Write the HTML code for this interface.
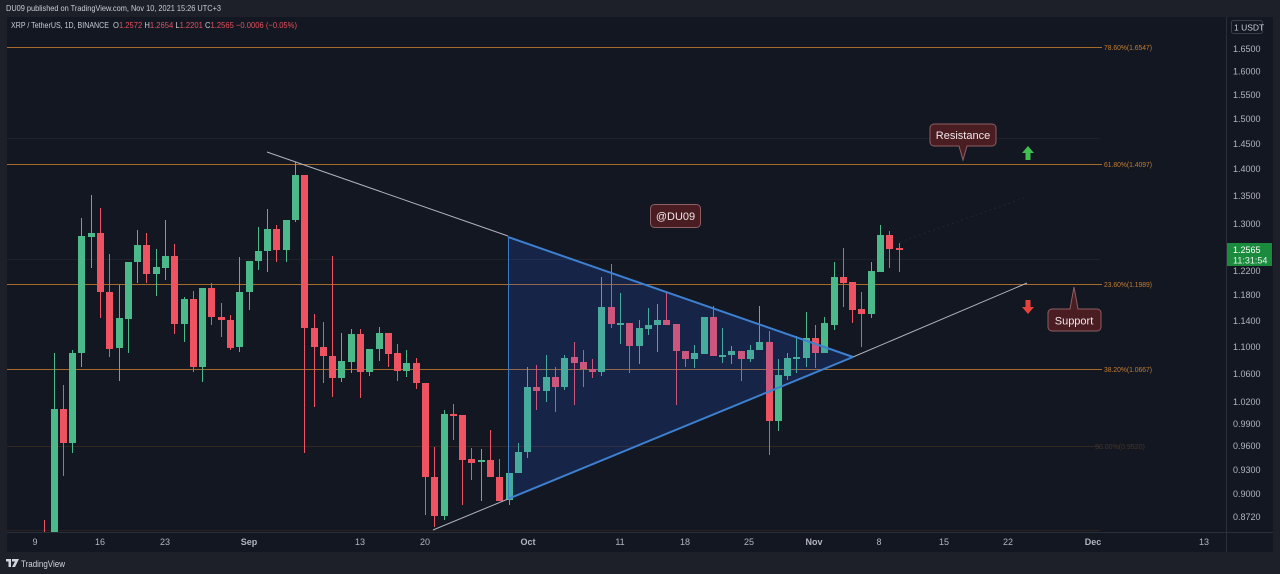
<!DOCTYPE html>
<html><head><meta charset="utf-8"><style>
html,body{margin:0;padding:0;background:#1e2029;}
svg{display:block;font-family:"Liberation Sans",sans-serif;}
</style></head><body>
<svg width="1280" height="574" viewBox="0 0 1280 574" xmlns="http://www.w3.org/2000/svg">
<rect x="0" y="0" width="1280" height="574" fill="#1e2029"/>
<text x="6" y="11" font-size="8.5" fill="#c9ccd4" textLength="215" lengthAdjust="spacingAndGlyphs">DU09 published on TradingView.com, Nov 10, 2021 15:26 UTC+3</text>
<!-- chart panel -->
<rect x="7" y="17" width="1266" height="535" fill="#131722"/>
<line x1="1226.5" y1="17" x2="1226.5" y2="552" stroke="#2a2e39" stroke-width="1"/>
<line x1="7" y1="532.5" x2="1273" y2="532.5" stroke="#2a2e39" stroke-width="1"/>

<!-- faint lines -->
<line x1="7" y1="138.5" x2="1100" y2="138.5" stroke="#1f222a" stroke-width="1"/>
<line x1="7" y1="259.5" x2="1100" y2="259.5" stroke="#1f222b" stroke-width="1"/>
<line x1="7" y1="446.5" x2="1100" y2="446.5" stroke="#33261f" stroke-width="1"/>
<line x1="7" y1="530.5" x2="1100" y2="530.5" stroke="#2a2220" stroke-width="1"/>
<text x="1095" y="449" font-size="7" fill="#4a3525">50.00%(0.9520)</text>

<!-- fib lines -->
<g stroke="#a86a2a" stroke-width="1">
<line x1="7" y1="47.5" x2="1102" y2="47.5"/>
<line x1="7" y1="164.5" x2="1102" y2="164.5"/>
<line x1="7" y1="284.5" x2="1102" y2="284.5"/>
<line x1="7" y1="369.5" x2="1102" y2="369.5"/>
</g>
<g font-size="7.5" fill="#c27d31">
<text x="1104" y="50" textLength="48" lengthAdjust="spacingAndGlyphs">78.60%(1.6547)</text>
<text x="1104" y="167" textLength="48" lengthAdjust="spacingAndGlyphs">61.80%(1.4097)</text>
<text x="1104" y="287" textLength="48" lengthAdjust="spacingAndGlyphs">23.60%(1.1989)</text>
<text x="1104" y="372" textLength="48" lengthAdjust="spacingAndGlyphs">38.20%(1.0667)</text>
</g>

<!-- candles -->
<g stroke="#4cb98a" stroke-width="1" fill="none">
<path d="M54.5 353V532M72.5 350V453M81.5 218V367M91.5 195V268M119.5 285V381M128.5 262V353M137.5 230V283M156.5 249V296M165.5 220V280M184.5 297V342M202.5 288V382M239.5 257V352M249.5 261V310M258.5 227V270M267.5 209V272M286.5 220V262M295.5 162V222M341.5 333V382M351.5 329V373M369.5 349V376M379.5 327V361M406.5 350V377M444.5 410V520M481.5 449V501M509.5 473V505M518.5 443V473M527.5 367V458M546.5 355V402M564.5 355V390M601.5 277V376M620.5 293V344M639.5 320V364M648.5 308V335M657.5 304V352M694.5 345V368M704.5 317V354M722.5 328V363M731.5 346V364M750.5 345V362M759.5 306V350M778.5 359V431M787.5 353V380M796.5 336V373M806.5 312V367M824.5 317V353M834.5 262V330M871.5 262V318M880.5 225V272"/>
</g>
<path fill="#4cb98a" d="M51 409h7V532h-7ZM69 353h7V443h-7ZM78 236h7V353h-7ZM88 233h7V237h-7ZM116 318h7V348h-7ZM125 262h7V319h-7ZM134 245h7V262h-7ZM153 267h7V274h-7ZM162 256h7V268h-7ZM181 299h7V324h-7ZM199 288h7V367h-7ZM236 292h7V347h-7ZM246 261h7V292h-7ZM255 251h7V261h-7ZM264 229h7V251h-7ZM283 220h7V250h-7ZM292 175h7V220h-7ZM338 361h7V378h-7ZM348 334h7V362h-7ZM366 349h7V372h-7ZM376 333h7V349h-7ZM403 363h7V371h-7ZM441 414h7V516h-7ZM478 460h7V462h-7ZM506 473h7V500h-7ZM515 452h7V473h-7ZM524 387h7V452h-7ZM543 377h7V391h-7ZM561 358h7V387h-7ZM598 307h7V372h-7ZM617 323h7V325h-7ZM636 328h7V346h-7ZM645 325h7V329h-7ZM654 320h7V325h-7ZM691 353h7V359h-7ZM701 317h7V354h-7ZM719 355h7V357h-7ZM728 351h7V355h-7ZM747 350h7V359h-7ZM756 342h7V350h-7ZM775 375h7V421h-7ZM784 358h7V376h-7ZM793 357h7V359h-7ZM803 338h7V358h-7ZM821 323h7V353h-7ZM831 277h7V325h-7ZM868 271h7V314h-7ZM877 235h7V272h-7Z"/>
<g stroke="#ef5362" stroke-width="1" fill="none">
<path d="M44.5 520V532M63.5 385V476M100.5 208V318M109.5 254V357M146.5 233V283M174.5 244V334M193.5 291V372M211.5 283V325M221.5 303V337M230.5 315V350M276.5 225V262M304.5 175V453M314.5 314V407M323.5 322V383M332.5 256V397M360.5 329V398M388.5 333V367M397.5 344V381M416.5 358V389M425.5 383V515M434.5 447V527M453.5 404V440M462.5 415V505M471.5 448V480M490.5 430V477M499.5 459V501M536.5 365V410M555.5 367V412M574.5 342V405M583.5 350V387M592.5 359V378M611.5 264V328M629.5 323V373M666.5 291V325M676.5 324V405M685.5 351V367M713.5 306V356M741.5 351V381M769.5 331V455M815.5 325V368M843.5 248V307M852.5 282V323M861.5 292V347M889.5 231V268M899.5 243V272"/>
</g>
<path fill="#ef5362" d="M60 409h7V443h-7ZM97 233h7V292h-7ZM106 292h7V349h-7ZM143 245h7V274h-7ZM171 256h7V324h-7ZM190 299h7V367h-7ZM208 288h7V317h-7ZM218 317h7V320h-7ZM227 320h7V348h-7ZM273 229h7V250h-7ZM301 175h7V328h-7ZM311 328h7V347h-7ZM320 347h7V356h-7ZM329 356h7V378h-7ZM357 334h7V372h-7ZM385 333h7V354h-7ZM394 353h7V371h-7ZM413 363h7V383h-7ZM422 383h7V477h-7ZM431 477h7V516h-7ZM450 414h7V416h-7ZM459 415h7V460h-7ZM468 459h7V463h-7ZM487 460h7V477h-7ZM496 477h7V501h-7ZM533 387h7V391h-7ZM552 377h7V387h-7ZM571 357h7V363h-7ZM580 362h7V369h-7ZM589 369h7V372h-7ZM608 307h7V324h-7ZM626 323h7V346h-7ZM663 320h7V325h-7ZM673 324h7V351h-7ZM682 351h7V359h-7ZM710 317h7V356h-7ZM738 351h7V359h-7ZM766 342h7V421h-7ZM812 338h7V353h-7ZM840 277h7V283h-7ZM849 282h7V310h-7ZM858 309h7V314h-7ZM886 235h7V249h-7ZM896 248h7V250h-7Z"/>

<!-- triangle -->
<polygon points="508,237 853,357 508,499" fill="rgb(41,98,255)" fill-opacity="0.17"/>
<line x1="508.5" y1="237" x2="508.5" y2="499" stroke="#3a7cc4" stroke-width="1"/>
<line x1="508" y1="237" x2="853" y2="357" stroke="#3d80d0" stroke-width="2"/>
<line x1="508" y1="499" x2="853" y2="357" stroke="#3d80d0" stroke-width="2"/>
<!-- trendlines -->
<line x1="267" y1="152" x2="508" y2="236" stroke="#aeb3c0" stroke-width="1"/>
<line x1="433" y1="530" x2="508" y2="499" stroke="#aeb3c0" stroke-width="1"/>
<line x1="853" y1="357" x2="1027" y2="283" stroke="#aeb3c0" stroke-width="1"/>
<line x1="900" y1="242" x2="1027" y2="197" stroke="#23262e" stroke-width="1" stroke-dasharray="2 3"/>

<!-- callouts -->
<g>
<path d="M934 124h58a4 4 0 0 1 4 4v14a4 4 0 0 1-4 4h-25l-4 14l-4-14h-25a4 4 0 0 1-4-4v-14a4 4 0 0 1 4-4z" fill="#4a1d22" stroke="#8d5f62" stroke-width="1"/>
<text x="963" y="139" font-size="11" fill="#f0e6e6" text-anchor="middle">Resistance</text>
</g>
<g>
<path d="M1052 309h18l4-22l4 22h19a4 4 0 0 1 4 4v14a4 4 0 0 1-4 4h-45a4 4 0 0 1-4-4v-14a4 4 0 0 1 4-4z" fill="#4a1d22" stroke="#8d5f62" stroke-width="1"/>
<text x="1074" y="324.5" font-size="11" fill="#f0e6e6" text-anchor="middle">Support</text>
</g>
<g>
<rect x="650.5" y="204.5" width="50" height="23" rx="4" fill="#4a1d22" stroke="#8d5f62" stroke-width="1"/>
<text x="675.5" y="220" font-size="11" fill="#f0e6e6" text-anchor="middle">@DU09</text>
</g>
<!-- arrows -->
<path d="M1028 146l6 7h-3.5v7h-5v-7h-3.5z" fill="#3fbf4f"/>
<path d="M1028 314l6-7h-3.5v-7h-5v7h-3.5z" fill="#e8403a"/>

<!-- symbol line -->
<text x="11" y="28" font-size="8.5" fill="#c9ccd4" textLength="98" lengthAdjust="spacingAndGlyphs">XRP / TetherUS, 1D, BINANCE</text>
<text x="113" y="28" font-size="8.5" textLength="184" lengthAdjust="spacingAndGlyphs"><tspan fill="#c9ccd4">O</tspan><tspan fill="#e5505c">1.2572 </tspan><tspan fill="#c9ccd4"> H</tspan><tspan fill="#e5505c">1.2654 </tspan><tspan fill="#c9ccd4"> L</tspan><tspan fill="#e5505c">1.2201 </tspan><tspan fill="#c9ccd4"> C</tspan><tspan fill="#e5505c">1.2565  −0.0006 (−0.05%)</tspan></text>

<!-- price axis -->
<rect x="1231.5" y="20.5" width="31" height="13" rx="2" fill="none" stroke="#3a3e49" stroke-width="1"/>
<text x="1234" y="30.5" font-size="8.5" fill="#c9ccd4">1 USDT</text>
<g font-size="9" fill="#b2b5be">
<text x="1233" y="52">1.6500</text>
<text x="1233" y="74.5">1.6000</text>
<text x="1233" y="98">1.5500</text>
<text x="1233" y="122">1.5000</text>
<text x="1233" y="147">1.4500</text>
<text x="1233" y="172">1.4000</text>
<text x="1233" y="199">1.3500</text>
<text x="1233" y="227">1.3000</text>
<text x="1233" y="274">1.2200</text>
<text x="1233" y="298">1.1800</text>
<text x="1233" y="324">1.1400</text>
<text x="1233" y="350">1.1000</text>
<text x="1233" y="377">1.0600</text>
<text x="1233" y="405">1.0200</text>
<text x="1233" y="427">0.9900</text>
<text x="1233" y="449">0.9600</text>
<text x="1233" y="473">0.9300</text>
<text x="1233" y="497">0.9000</text>
<text x="1233" y="520">0.8720</text>
</g>
<rect x="1227" y="243" width="45" height="23" fill="#1a8a3c"/>
<text x="1233" y="253" font-size="9" fill="#ffffff">1.2565</text>
<text x="1233" y="263.5" font-size="9" fill="#e8f5ea">11:31:54</text>

<!-- time axis -->
<g font-size="9" fill="#b2b5be" text-anchor="middle">
<text x="35" y="545">9</text>
<text x="100" y="545">16</text>
<text x="165" y="545">23</text>
<text x="249" y="545" font-weight="bold">Sep</text>
<text x="360" y="545">13</text>
<text x="425" y="545">20</text>
<text x="528" y="545" font-weight="bold">Oct</text>
<text x="620" y="545">11</text>
<text x="685" y="545">18</text>
<text x="749" y="545">25</text>
<text x="814" y="545" font-weight="bold">Nov</text>
<text x="879" y="545">8</text>
<text x="944" y="545">15</text>
<text x="1008" y="545">22</text>
<text x="1093" y="545" font-weight="bold">Dec</text>
<text x="1204" y="545">13</text>
</g>

<!-- footer -->
<g fill="#d1d4dc">
<rect x="6" y="559" width="5" height="2.5"/>
<rect x="8.5" y="559" width="2.5" height="8"/>
<path d="M12 559h7l-4 8h-3l3-5.5h-3z"/>
<text x="21" y="567" font-size="9.5" textLength="44" lengthAdjust="spacingAndGlyphs">TradingView</text>
</g>
</svg>
</body></html>
